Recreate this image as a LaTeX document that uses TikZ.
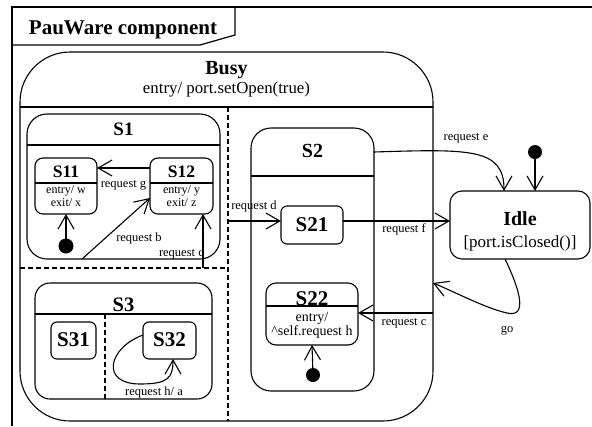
\documentclass[tikz,border=0pt]{standalone}
\usepackage{fontspec}
\setmainfont{Liberation Serif}
\usetikzlibrary{arrows.meta}

\tikzset{
  lw/.style={line width=1.1pt},
  box/.style={draw, line width=1.1pt, rectangle, inner sep=0pt, outer sep=0pt, fill=white},
  tr/.style={draw, line width=1.1pt, -{Straight Barb[length=14pt,width=16pt]}},
  init/.style={circle, fill=black, minimum size=15pt, inner sep=0pt, outer sep=0pt},
  lbl/.style={font=\fontsize{12.5}{14}\selectfont, anchor=base, inner sep=0pt},
  act/.style={font=\fontsize{12}{14}\selectfont, anchor=base, inner sep=0pt},
  big/.style={font=\bfseries\fontsize{20.5}{24}\selectfont, anchor=base, inner sep=0pt},
  mid/.style={font=\bfseries\fontsize{17.5}{20}\selectfont, anchor=base, inner sep=0pt},
  dsh/.style={line width=1.1pt, dash pattern=on 5pt off 3pt},
}

\begin{document}
\begin{tikzpicture}[x=1pt,y=-1pt]
\useasboundingbox (0,0) rectangle (592,426);
\fill[white] (0,0) rectangle (592,426);

% component frame with its name tab
\draw[line width=1.6pt] (12,426) -- (12,7) -- (592,7);
\draw[line width=1.2pt] (12,45) -- (200,45) -- (235,35) -- (235,7);
\node[anchor=base, font=\bfseries\fontsize{21}{24}\selectfont, inner sep=0pt] (frametitle) at (123,34) {PauWare component};

% Busy
\node[box, rounded corners=50pt, minimum width=413pt, minimum height=369pt] (busy) at (226.5,236.5) {};
\coordinate (yBusyHead) at (0,107);
\draw[lw] (busy.west |- yBusyHead) -- (busy.east |- yBusyHead);
\node[big, font=\bfseries\fontsize{20}{24}\selectfont] (busytitle) at (226.5,74) {Busy};
\node[anchor=base, inner sep=0pt, font=\fontsize{16.8}{20}\selectfont] (busyentry) at (226.5,93) {entry/ port.setOpen(true)};

% concurrent regions
\coordinate (regTop) at (228,107);
\coordinate (regBot) at (228,421);
\coordinate (regL) at (20,268);
\coordinate (regR) at (228,268);
\draw[dsh] (regTop) -- (regBot);
\draw[dsh] (regL) -- (regR);

% S1
\node[box, rounded corners=20pt, minimum width=193pt, minimum height=145pt] (s1) at (123.5,186.5) {};
\coordinate (yS1Head) at (0,145);
\draw[lw] (s1.west |- yS1Head) -- (s1.east |- yS1Head);
\node[big, font=\bfseries\fontsize{19}{22}\selectfont] (s1title) at (123.5,135) {S1};

\node[box, rounded corners=8pt, minimum width=62pt, minimum height=56pt] (s11) at (66,186) {};
\node[box, rounded corners=8pt, minimum width=63pt, minimum height=56pt] (s12) at (181.5,186) {};
\coordinate (ySubHead) at (0,183);
\draw[lw] (s11.west |- ySubHead) -- (s11.east |- ySubHead);
\draw[lw] (s12.west |- ySubHead) -- (s12.east |- ySubHead);
\node[mid] (s11title) at (66,177.5) {S11};
\node[act] (s11entry) at (66,193) {entry/ w};
\node[act] (s11exit) at (66,206.5) {exit/ x};
\node[mid] (s12title) at (181.5,177.5) {S12};
\node[act] (s12entry) at (181.5,193) {entry/ y};
\node[act] (s12exit) at (181.5,206.5) {exit/ z};

\node[init] (i1) at (66,246) {};
\draw[tr] (i1) -- (s11.south);

\coordinate (yG) at (0,168);
\draw[tr] (s12.west |- yG) -- (s11.east |- yG);
\node[lbl] (lg) at (123.5,187) {request g};

\coordinate (bStart) at (82,259);
\coordinate (yB) at (0,198);
\draw[tr] (bStart) -- (s12.west |- yB);
\node[lbl] (lb) at (139,241) {request b};

\coordinate (cStart) at (203,268);
\draw[tr] (cStart) -- (cStart |- s12.south);
\node[lbl, anchor=base east] (lc) at (204,256.5) {request c};

% S3
\node[box, rounded corners=15pt, minimum width=177pt, minimum height=116pt] (s3) at (123.5,341) {};
\coordinate (yS3Head) at (0,314);
\draw[lw] (s3.west |- yS3Head) -- (s3.east |- yS3Head);
\node[big] (s3title) at (123.5,311) {S3};
\coordinate (s3dTop) at (105,314);
\coordinate (s3dBot) at (105,399);
\draw[dsh] (s3dTop) -- (s3dBot);

\node[box, rounded corners=6pt, minimum width=45pt, minimum height=37pt] (s31) at (73.5,340.5) {};
\node[big, font=\bfseries\fontsize{21}{24}\selectfont] (s31title) at (73.5,346.5) {S31};
\node[box, rounded corners=6pt, minimum width=53pt, minimum height=37pt] (s32) at (169.5,340.5) {};
\node[big, font=\bfseries\fontsize{21}{24}\selectfont] (s32title) at (169.5,346.5) {S32};

\coordinate (yH) at (0,335);
\coordinate (xH) at (173,0);
\draw[tr] (s32.west |- yH) .. controls (108,348) and (100,384) .. (140,384)
  .. controls (168,384) and (173,378) .. (s32.south -| xH);
\node[lbl] (lh) at (154,395) {request h/ a};

% S2
\node[box, rounded corners=20pt, minimum width=123pt, minimum height=263pt] (s2) at (312.5,259.5) {};
\coordinate (yS2Head) at (0,176);
\draw[lw] (s2.west |- yS2Head) -- (s2.east |- yS2Head);
\node[big, font=\bfseries\fontsize{20}{24}\selectfont] (s2title) at (312.5,157) {S2};

\node[box, rounded corners=6pt, minimum width=62pt, minimum height=38pt] (s21) at (312,225) {};
\node[big, font=\bfseries\fontsize{21}{24}\selectfont] (s21title) at (312,231.5) {S21};

\node[box, rounded corners=10pt, minimum width=92pt, minimum height=62pt] (s22) at (312,314) {};
\coordinate (yS22Head) at (0,306);
\draw[lw] (s22.west |- yS22Head) -- (s22.east |- yS22Head);
\node[big, font=\bfseries\fontsize{21}{24}\selectfont] (s22title) at (312,305.5) {S22};
\node[anchor=base, inner sep=0pt, font=\fontsize{14}{16}\selectfont] (s22entry) at (312,321) {entry/};
\node[anchor=base, inner sep=0pt, font=\fontsize{14}{16}\selectfont] (s22act) at (312,335) {\textasciicircum self.request h};

\node[init, minimum size=14pt] (i2) at (313,375) {};
\draw[tr] (i2) -- (s22.south);

% transitions across S21 share one height
\coordinate (yDF) at (0,221);
\coordinate (dStart) at (228,221);
\draw[tr] (dStart) -- (s21.west |- yDF);
\node[lbl] (ld) at (254,209.5) {request d};

% Idle
\node[box, rounded corners=12pt, minimum width=140pt, minimum height=68pt] (idle) at (520,225) {};
\node[big, font=\bfseries\fontsize{20}{24}\selectfont] (idletitle) at (520,225) {Idle};
\node[anchor=base, inner sep=0pt, font=\fontsize{17}{20}\selectfont] (idleguard) at (520,247) {[port.isClosed()]};

\node[init, minimum size=14pt] (i3) at (535,152) {};
\draw[tr] (i3) -- (i3 |- idle.north);

\draw[tr] (s21.east |- yDF) -- (idle.west |- yDF);
\node[lbl] (lf) at (404,232.5) {request f};

\coordinate (yE) at (0,152);
\coordinate (xE) at (504,0);
\draw[tr] (s2.east |- yE) .. controls (470,149) and (504,148) .. (idle.north -| xE);
\node[lbl] (le) at (466,140) {request e};

\coordinate (xGo) at (505,0);
\coordinate (yGo) at (0,283);
\draw[tr] (idle.south -| xGo) .. controls (520,290) and (528,318) .. (507,313)
  .. controls (485,308) and (455,292) .. (busy.east |- yGo);
\node[lbl] (lgo) at (507,332.5) {go};

\coordinate (yC2) at (0,313);
\draw[tr] (busy.east |- yC2) -- (s22.east |- yC2);
\node[lbl] (lc2) at (404,325) {request c};
\end{tikzpicture}
\end{document}
